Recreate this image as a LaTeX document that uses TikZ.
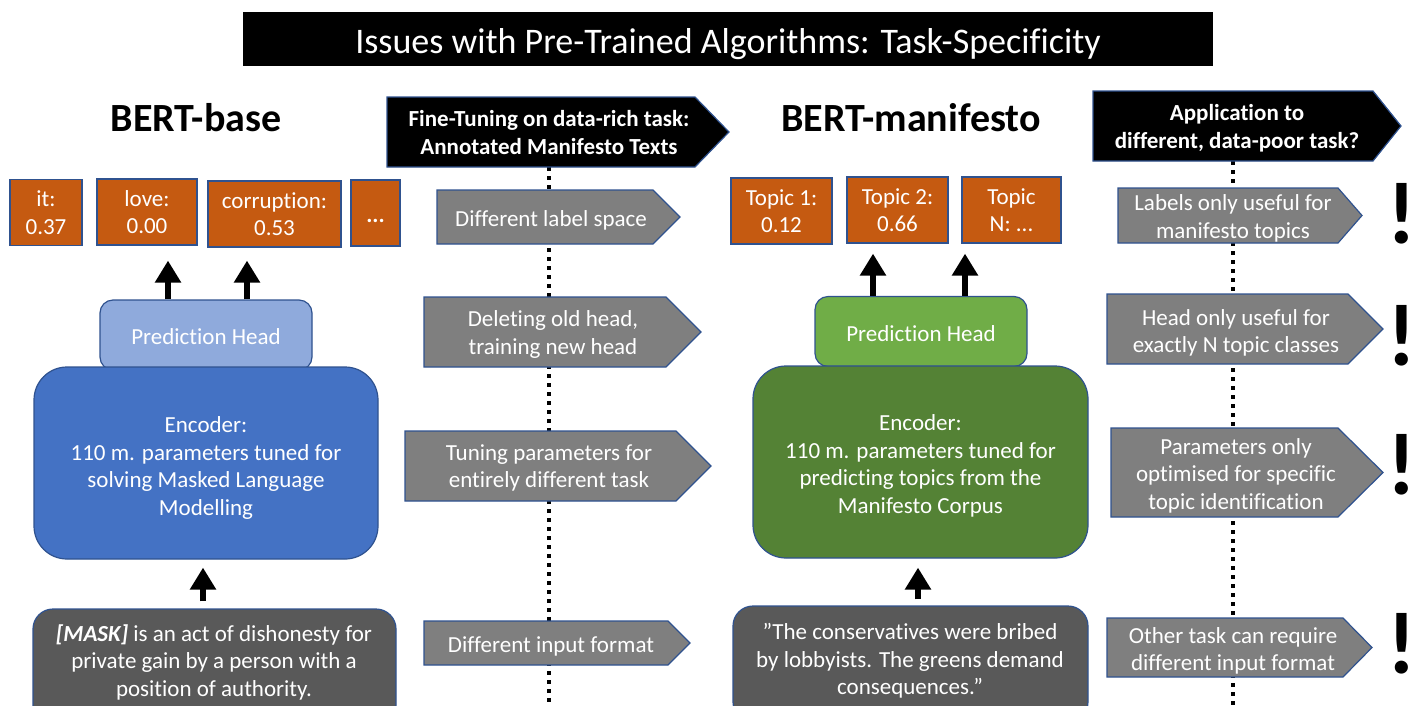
\documentclass[tikz,border=0pt]{standalone}
\usepackage{fontspec}
\setmainfont{Carlito}[Ligatures={TeX,NoCommon}]
\usetikzlibrary{arrows.meta}

\definecolor{rust}{HTML}{C55A11}
\definecolor{edgeblue}{HTML}{2F528F}
\definecolor{headblue}{HTML}{8FAADC}
\definecolor{encblue}{HTML}{4472C4}
\definecolor{headgreen}{HTML}{70AD47}
\definecolor{encgreen}{HTML}{548235}
\definecolor{notegray}{HTML}{7F7F7F}
\definecolor{inputgray}{HTML}{595959}

\begin{document}
\begin{tikzpicture}[x=1pt,y=1pt,yscale=-1,xscale=1,
  every node/.style={font=\fontsize{23}{27.5}\selectfont, text=white, align=center, inner sep=0pt},
  scorebox/.style={draw=edgeblue, fill=rust, line width=1.2pt, minimum height=66pt},
  headbox/.style={draw=edgeblue, line width=1.2pt, rounded corners=13pt, minimum width=212pt, minimum height=70pt},
  encbox/.style={draw=edgeblue, line width=1.2pt, rounded corners=33pt, minimum height=192pt},
  inbox/.style={draw=edgeblue, fill=inputgray, line width=1.2pt, rounded corners=20pt, minimum height=116pt},
  note/.style={draw=edgeblue, fill=notegray, line width=1.2pt},
  banner/.style={draw=edgeblue, fill=black, line width=1.2pt},
  upar/.style={line width=6pt, -{Triangle[width=25pt,length=22pt]}},
  dotline/.style={line width=4pt, dash pattern=on 4pt off 5pt},
  bang/.style={text=black, font=\fontsize{88}{88}\selectfont\bfseries, anchor=base}
]
\useasboundingbox (0,0) rectangle (1415,705);
\clip (0,0) rectangle (1415,705);

% Title bar
\node[fill=black, minimum width=970pt, minimum height=54pt] (title) at (728,39) {};
\node[font=\fontsize{36}{40}\selectfont] (titletext) at ([yshift=5pt]title.center) {Issues with Pre-Trained Algorithms: Task-Specificity};

% Model names
\node[text=black, font=\fontsize{40}{46}\selectfont\bfseries] (bertbase) at (196,118) {BERT-base};
\node[text=black, font=\fontsize{40}{46}\selectfont\bfseries] (bertman) at (911,118) {BERT-manifesto};

%Straight Lines: dotted separators
\draw[dotline] (549,167) -- (549,705);
\draw[dotline] (1233,161) -- (1233,705);

%Shape: Banners
\draw[banner] (387,97) -- (695,97) -- (729,132) -- (695,167) -- (387,167) -- cycle;
\node[font=\fontsize{23}{28}\selectfont\bfseries] (finetune) at (549,133) {Fine-Tuning on data-rich task:\\Annotated Manifesto Texts};
\draw[banner] (1093,91) -- (1373,91) -- (1401,126) -- (1373,161) -- (1093,161) -- cycle;
\node[font=\fontsize{23}{28}\selectfont\bfseries] (apply) at (1237,128) {Application to\\different, data-poor task?};

%Shape: Notes, first column
\draw[note] (437,190) -- (653,190) -- (680,217) -- (653,244) -- (437,244) -- cycle;
\node (labelspace) at (551,220) {Different label space};
\draw[note] (424,297) -- (666,297) -- (701,332) -- (666,367) -- (424,367) -- cycle;
\node (newhead) at (553,334.5) {Deleting old head,\\training new head};
\draw[note] (405,431) -- (676,431) -- (711,466) -- (676,501) -- (405,501) -- cycle;
\node (tuning) at (549,468) {Tuning parameters for\\entirely different task};
\draw[note] (424,621) -- (668,621) -- (690,643) -- (668,665) -- (424,665) -- cycle;
\node (inputfmt) at (551,646) {Different input format};

%Shape: Notes, second column
\draw[note] (1118,188) -- (1338,188) -- (1362,215.5) -- (1338,243) -- (1118,243) -- cycle;
\node (labelsonly) at (1233,218.5) {Labels only useful for\\manifesto topics};
\draw[note] (1107,294) -- (1348,294) -- (1383,329) -- (1348,364) -- (1107,364) -- cycle;
\node (headonly) at (1236,333) {Head only useful for\\exactly N topic classes};
\draw[note] (1111,428) -- (1338,428) -- (1383,472.5) -- (1338,517) -- (1111,517) -- cycle;
\node (paramsonly) at (1236,475.5) {Parameters only\\optimised for specific\\topic identification};
\draw[note] (1107,618) -- (1343,618) -- (1372,647.5) -- (1343,677) -- (1107,677) -- cycle;
\node (othertask) at (1233,651) {Other task can require\\different input format};

% Warning marks
\node[bang] (bang1) at (1402,243) {!};
\node[bang] (bang2) at (1402,365) {!};
\node[bang] (bang3) at (1402,494) {!};
\node[bang] (bang4) at (1402,673) {!};

%%% BERT-base
\node[scorebox, minimum width=72pt] (it) at (46,212.5) {it:\\0.37};
\node[scorebox, minimum width=100pt] (love) at (147,212) {love:\\0.00};
\node[scorebox, minimum width=133pt] (corr) at (274.5,214) {corruption:\\0.53};
\node[scorebox, minimum width=49pt, text height=23pt, text depth=5pt, font=\fontsize{23}{27.5}\selectfont\bfseries] (more) at (375.5,213) {...};

\node[headbox, fill=headblue] (headA) at (206,335) {};
\node (headAtext) at ([yshift=2pt]headA.center) {Prediction Head};
\node[encbox, fill=encblue, minimum width=344pt] (encA) at (206,463) {};
\node (encAtext) at ([yshift=5pt]encA.center) {Encoder:\\110 m. parameters tuned for\\solving Masked Language\\Modelling};
\node[inbox, minimum width=363pt] (inbA) at (214.5,667) {};
\node (inA) at (214,662) {\textbf{\textit{[MASK]}} is an act of dishonesty for\\private gain by a person with a\\position of authority.};

\draw[upar, shorten >=15pt] ([xshift=-38pt]headA.north) -- ([xshift=21pt]love.south);
\draw[upar, shorten >=13pt] ([xshift=41pt]headA.north) -- ([xshift=-27.5pt]corr.south);
\draw[upar, shorten <=7pt, shorten >=8pt] ([xshift=-11.5pt]inbA.north) -- ([xshift=-3pt]encA.south);

%%% BERT-manifesto
\node[scorebox, minimum width=101pt] (topic1) at (781.5,211) {Topic 1:\\0.12};
\node[scorebox, minimum width=101pt] (topic2) at (897.5,210) {Topic 2:\\0.66};
\node[scorebox, minimum width=99pt] (topicN) at (1011.5,210) {Topic\\N: ...};

\node[headbox, fill=headgreen] (headB) at (921,331.5) {};
\node (headBtext) at ([yshift=2pt]headB.center) {Prediction Head};
\node[encbox, fill=encgreen, minimum width=335pt] (encB) at (920.5,462) {};
\node (encBtext) at ([yshift=4pt]encB.center) {Encoder:\\110 m. parameters tuned for\\predicting topics from the\\Manifesto Corpus};
\node[inbox, minimum width=355pt] (inbB) at (910.5,664) {};
\node (inB) at (910,661) {”The conservatives were bribed\\by lobbyists. The greens demand\\consequences.”};

\draw[upar, shorten >=10pt] ([xshift=-48pt]headB.north) -- ([xshift=-24.5pt]topic2.south);
\draw[upar, shorten >=10pt] ([xshift=44pt]headB.north) -- ([xshift=-46.5pt]topicN.south);
\draw[upar, shorten <=6pt, shorten >=9pt] ([xshift=7.5pt]inbB.north) -- ([xshift=-2.5pt]encB.south);

\end{tikzpicture}
\end{document}
